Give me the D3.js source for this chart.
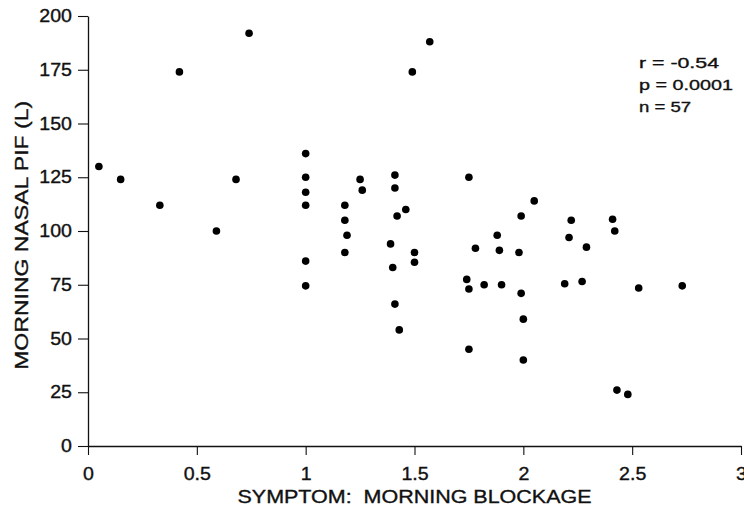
<!DOCTYPE html>
<html>
<head>
<meta charset="utf-8">
<script src="https://cdn.jsdelivr.net/npm/d3@7"></script>
<style>
  body { margin: 0; background: #fff; }
  svg { display: block; font-family: "Liberation Sans", Arial, Helvetica, sans-serif; }
  svg text { stroke: #111; stroke-width: 0.35px; }
</style>
</head>
<body>
<div id="chart"></div>
<script>
// symptom score (morning blockage) vs morning nasal PIF
const blockage = [
  0.05, 0.15, 0.33, 0.42, 0.59, 0.68, 0.74,
  1.0, 1.0, 1.0, 1.0, 1.0, 1.0,
  1.18, 1.18, 1.19, 1.18, 1.25, 1.26,
  1.39, 1.40, 1.41, 1.41, 1.41, 1.42, 1.43, 1.46, 1.49, 1.50, 1.50, 1.57,
  1.74, 1.75, 1.75, 1.75, 1.78, 1.82, 1.88, 1.89, 1.90,
  1.98, 1.99, 1.99, 2.0, 2.0, 2.05,
  2.19, 2.21, 2.22, 2.27, 2.29, 2.41, 2.42, 2.43, 2.48, 2.53, 2.73
];
const pif = [
  130, 124, 112, 174, 100, 124, 192,
  136, 125, 118, 112, 86, 74.5,
  112, 105, 98, 90, 124, 119,
  94, 83, 126, 120, 66, 107, 54, 110, 174, 90, 85.5, 188,
  77.5, 125, 73, 45, 92, 75, 98, 91, 75,
  90, 107, 71, 59, 40, 114,
  75.5, 97, 105, 76.5, 92.5, 105.5, 100, 26, 24, 73.5, 74.5
];
const xTicks = [0, 0.5, 1, 1.5, 2, 2.5, 3];
const yTicks = [0, 25, 50, 75, 100, 125, 150, 175, 200];
const statLines = ["r = -0.54", "p = 0.0001", "n = 57"];

const width = 744, height = 516;
const margin = { top: 16, right: 3, bottom: 70, left: 88 };
const ink = "#111";
const stretch = 1.12; // the scanned lettering is a bit wider than Arial

const svg = d3.select("#chart").append("svg")
  .attr("width", width)
  .attr("height", height);

const x = d3.scaleLinear().domain([0, 3]).range([margin.left, width - margin.right]);
const y = d3.scaleLinear().domain([0, 200]).range([height - margin.bottom, margin.top]);

// axes
const xAxis = svg.append("g")
  .attr("transform", `translate(0,${y(0)})`)
  .call(d3.axisBottom(x).tickValues(xTicks).tickFormat(d3.format("")).tickSize(9).tickSizeOuter(0).tickPadding(13));

const yAxis = svg.append("g")
  .attr("transform", `translate(${x(0)},0)`)
  .call(d3.axisLeft(y).tickValues(yTicks).tickSize(10).tickSizeOuter(0).tickPadding(6));

[xAxis, yAxis].forEach(g => {
  g.select(".domain").attr("stroke", ink).attr("stroke-width", 1.3);
  g.selectAll(".tick line").attr("stroke", ink).attr("stroke-width", 1.1);
  g.selectAll(".tick text")
    .attr("fill", ink)
    .style("font-size", "17.5px")
    .style("font-family", "'Liberation Sans', Arial, sans-serif");
});

xAxis.selectAll(".tick text").attr("transform", `scale(${stretch},1)`);
yAxis.selectAll(".tick text")
  .attr("x", -16 / stretch)
  .attr("transform", `scale(${stretch},1)`);

// axis titles
svg.append("text")
  .attr("x", x(1.5))
  .attr("y", 503)
  .attr("text-anchor", "middle")
  .attr("fill", ink)
  .attr("font-size", 18)
  .attr("textLength", 354)
  .attr("lengthAdjust", "spacingAndGlyphs")
  .style("white-space", "pre")
  .text("SYMPTOM:  MORNING BLOCKAGE");

svg.append("text")
  .attr("transform", `translate(28,${y(98)}) rotate(-90)`)
  .attr("text-anchor", "middle")
  .attr("fill", ink)
  .attr("font-size", 18)
  .attr("textLength", 269)
  .attr("lengthAdjust", "spacingAndGlyphs")
  .text("MORNING NASAL PIF (L)");

// correlation stats, upper right
const statWidths = [80, 94, 52];
svg.append("g").selectAll("text")
  .data(statLines)
  .join("text")
    .attr("x", 639)
    .attr("y", (d, i) => 68 + i * 22)
    .attr("fill", ink)
    .attr("font-size", 15)
    .attr("textLength", (d, i) => statWidths[i])
    .attr("lengthAdjust", "spacingAndGlyphs")
    .text(d => d);

// the points
svg.append("g").selectAll("circle")
  .data(d3.zip(blockage, pif))
  .join("circle")
    .attr("cx", d => x(d[0]))
    .attr("cy", d => y(d[1]))
    .attr("r", 3.8)
    .attr("fill", "#000");
</script>
</body>
</html>
